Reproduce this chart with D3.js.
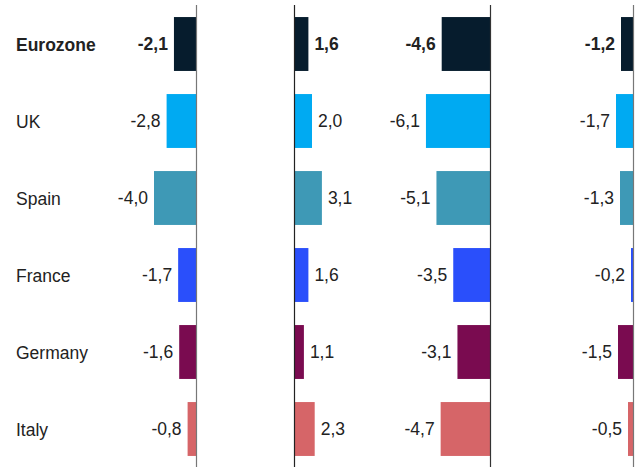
<!DOCTYPE html>
<html><head><meta charset="utf-8">
<script src="https://cdn.jsdelivr.net/npm/d3@7"></script>
<style>html,body{margin:0;padding:0;background:#fff;}svg{display:block;}</style>
</head><body>
<svg id="c" width="643" height="467"></svg>
<script>
const categories = ["Eurozone","UK","Spain","France","Germany","Italy"];
const colors = ["#061c2d","#00aaf2","#3e99b6","#2a4ffb","#7a0b50","#d66568"];
const panel1 = [-2.1,-2.8,-4.0,-1.7,-1.6,-0.8];
const panel2 = [1.6,2.0,3.1,1.6,1.1,2.3];
const panel3 = [-4.6,-6.1,-5.1,-3.5,-3.1,-4.7];
const panel4 = [-1.2,-1.7,-1.3,-0.2,-1.5,-0.5];

const svg = d3.select("#c");
const y = d3.scaleBand().domain(categories).range([5.5,467.5]).paddingInner(0.3).paddingOuter(0.15);
const fmt = v => d3.format(".1f")(v).replace(".",",").replace("−","-");
const FONT = "'Liberation Sans', Arial, Helvetica, sans-serif";

const panels = [
  {values: panel1, scale: d3.scaleLinear().domain([-8,0]).range([112,196]), axisColor:"#777"},
  {values: panel2, scale: d3.scaleLinear().domain([0,8]).range([294,366]), axisColor:"#222"},
  {values: panel3, scale: d3.scaleLinear().domain([-8,0]).range([406,490]), axisColor:"#333"},
  {values: panel4, scale: d3.scaleLinear().domain([-8,0]).range([553,633]), axisColor:"#777"}
];

svg.selectAll("text.cat").data(categories).join("text")
  .attr("class","cat")
  .attr("x",16).attr("y",d=>y(d)+y.bandwidth()/2+1)
  .attr("dy","0.35em")
  .attr("font-family",FONT)
  .attr("font-size",17.5)
  .attr("font-weight",(d,i)=>i===0?"bold":"normal")
  .attr("fill","#222")
  .text(d=>d);

panels.forEach(p=>{
  const x = p.scale;
  const g = svg.append("g");
  g.selectAll("rect").data(p.values).join("rect")
    .attr("x",d=>Math.min(x(d),x(0)))
    .attr("y",(d,i)=>y(categories[i]))
    .attr("width",d=>Math.abs(x(d)-x(0)))
    .attr("height",y.bandwidth())
    .attr("fill",(d,i)=>colors[i]);
  g.selectAll("text").data(p.values).join("text")
    .attr("x",d=>d<0? x(d)-6 : x(d)+6)
    .attr("y",(d,i)=>y(categories[i])+y.bandwidth()/2)
    .attr("dy","0.35em")
    .attr("text-anchor",d=>d<0?"end":"start")
    .attr("font-family",FONT)
    .attr("font-size",17.5)
    .attr("font-weight",(d,i)=>i===0?"bold":"normal")
    .attr("fill","#222")
    .text(d=>fmt(d));
  g.append("line")
    .attr("x1",x(0)+0.5).attr("x2",x(0)+0.5)
    .attr("y1",5).attr("y2",467)
    .attr("stroke",p.axisColor).attr("stroke-width",1.2);
});
</script>
</body></html>
